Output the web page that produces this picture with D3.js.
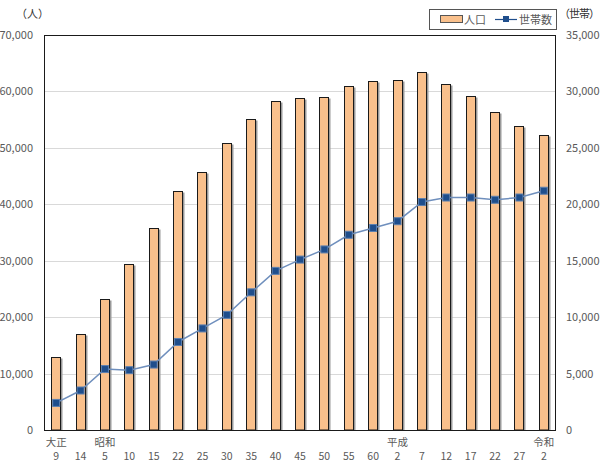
<!DOCTYPE html>
<html><head><meta charset="utf-8">
<script src="https://cdn.jsdelivr.net/npm/d3@7"></script>
<style>
body{margin:0;background:#fff;}
text{font-family:"Noto Sans CJK JP","Noto Sans",sans-serif;}
</style></head>
<body>
<svg id="c" width="600" height="463"></svg>
<script>
const eras = ["大正","","昭和","","","","","","","","","","","","平成","","","","","","令和"];
const years = ["9","14","5","10","15","22","25","30","35","40","45","50","55","60","2","7","12","17","22","27","2"];
const population = [13000,17000,23300,29400,35800,42400,45800,50900,55200,58300,58800,59100,61000,61800,62000,63500,61400,59200,56400,53900,52200];
const households = [2400,3500,5400,5300,5800,7800,9000,10200,12200,14100,15100,16000,17300,17900,18500,20200,20600,20600,20400,20600,21200];
const leftTicks = [0,10000,20000,30000,40000,50000,60000,70000];
const rightTicks = [0,5000,10000,15000,20000,25000,30000,35000];

const svg = d3.select("#c");
const L=44, R=556, T=35, B=430;
const cats = d3.range(years.length);
const x = d3.scaleBand().domain(cats).range([L,R]).paddingInner(0).paddingOuter(0);
const yL = d3.scaleLinear().domain([0,70000]).range([B,T]);
const yR = d3.scaleLinear().domain([0,35000]).range([B,T]);
const fmt = d3.format(",");
const txt = "#595959";

// gridlines
svg.append("g").selectAll("line").data(leftTicks.slice(1,-1)).join("line")
  .attr("x1",L).attr("x2",R).attr("y1",d=>Math.round(yL(d))+0.5).attr("y2",d=>Math.round(yL(d))+0.5)
  .attr("stroke","#d9d9d9").attr("stroke-width",1);

// bars
const bw = 10;
const bars = svg.append("g");
bars.selectAll("rect.sh").data(population).join("rect")
  .attr("x",(d,i)=>Math.round(x(i)+x.bandwidth()/2-bw/2)+1.5)
  .attr("y",d=>Math.round(yL(d))+1.5)
  .attr("width",bw).attr("height",d=>B-Math.round(yL(d))-1.5)
  .attr("fill","#9a9a9a");
bars.selectAll("rect.b").data(population).join("rect")
  .attr("x",(d,i)=>Math.round(x(i)+x.bandwidth()/2-bw/2)+0.5)
  .attr("y",d=>Math.round(yL(d))+0.5)
  .attr("width",bw-1).attr("height",d=>B-Math.round(yL(d))-0.5)
  .attr("fill","#f9c08c").attr("stroke","#1a1a1a").attr("stroke-width",1);

// line
const cx = i=>x(i)+x.bandwidth()/2;
svg.append("path").datum(households)
  .attr("d",d3.line().x((d,i)=>cx(i)).y(d=>yR(d)))
  .attr("fill","none").attr("stroke","#6f8fbd").attr("stroke-width",1.5);
svg.append("g").selectAll("rect").data(households).join("rect")
  .attr("x",(d,i)=>cx(i)-3.5).attr("y",d=>yR(d)-3.5).attr("width",7).attr("height",7)
  .attr("fill","#1f4e8c").attr("stroke","#5a7fb0").attr("stroke-width",1);

// frame
svg.append("rect").attr("x",L+0.5).attr("y",T+0.5).attr("width",R-L-1).attr("height",B-T)
  .attr("fill","none").attr("stroke","#1a1a1a").attr("stroke-width",1);

// axis labels
svg.append("g").selectAll("text").data(leftTicks).join("text")
  .attr("x",33).attr("y",d=>yL(d)+4).attr("text-anchor","end")
  .attr("font-size",11).attr("fill",txt).text(d=>fmt(d));
svg.append("g").selectAll("text").data(rightTicks).join("text")
  .attr("x",566).attr("y",d=>yR(d)+4).attr("text-anchor","start")
  .attr("font-size",11).attr("fill",txt).text(d=>fmt(d));

svg.append("text").attr("x",16).attr("y",18).attr("font-size",11).attr("fill","#333").text("（人）");
svg.append("text").attr("x",559).attr("y",18).attr("font-size",11).attr("letter-spacing","-1px")
  .attr("fill","#333").text("（世帯）");

// x labels
svg.append("g").selectAll("text").data(years).join("text")
  .attr("x",(d,i)=>cx(i)).attr("y",460).attr("text-anchor","middle")
  .attr("font-family","Noto Sans").attr("font-size",10.5).attr("fill",txt).text(d=>d);
svg.append("g").selectAll("text").data(eras).join("text")
  .attr("x",(d,i)=>cx(i)).attr("y",445.5).attr("text-anchor","middle")
  .attr("font-size",10.5).attr("fill",txt).text(d=>d);

// legend
const lg = svg.append("g");
lg.append("rect").attr("x",429.5).attr("y",9.5).attr("width",127).attr("height",20)
  .attr("fill","#fff").attr("stroke","#555");
lg.append("rect").attr("x",440.5).attr("y",15.5).attr("width",22).attr("height",7)
  .attr("fill","#f9c08c").attr("stroke","#555");
lg.append("text").attr("x",464).attr("y",23.5).attr("font-size",11).attr("fill",txt).text("人口");
lg.append("line").attr("x1",495).attr("x2",517).attr("y1",19.5).attr("y2",19.5)
  .attr("stroke","#1f4e8c").attr("stroke-width",1.2);
lg.append("rect").attr("x",503).attr("y",16).attr("width",6).attr("height",6).attr("fill","#1f4e8c");
lg.append("text").attr("x",519).attr("y",23.5).attr("font-size",11).attr("fill",txt).text("世帯数");
</script>
</body></html>
